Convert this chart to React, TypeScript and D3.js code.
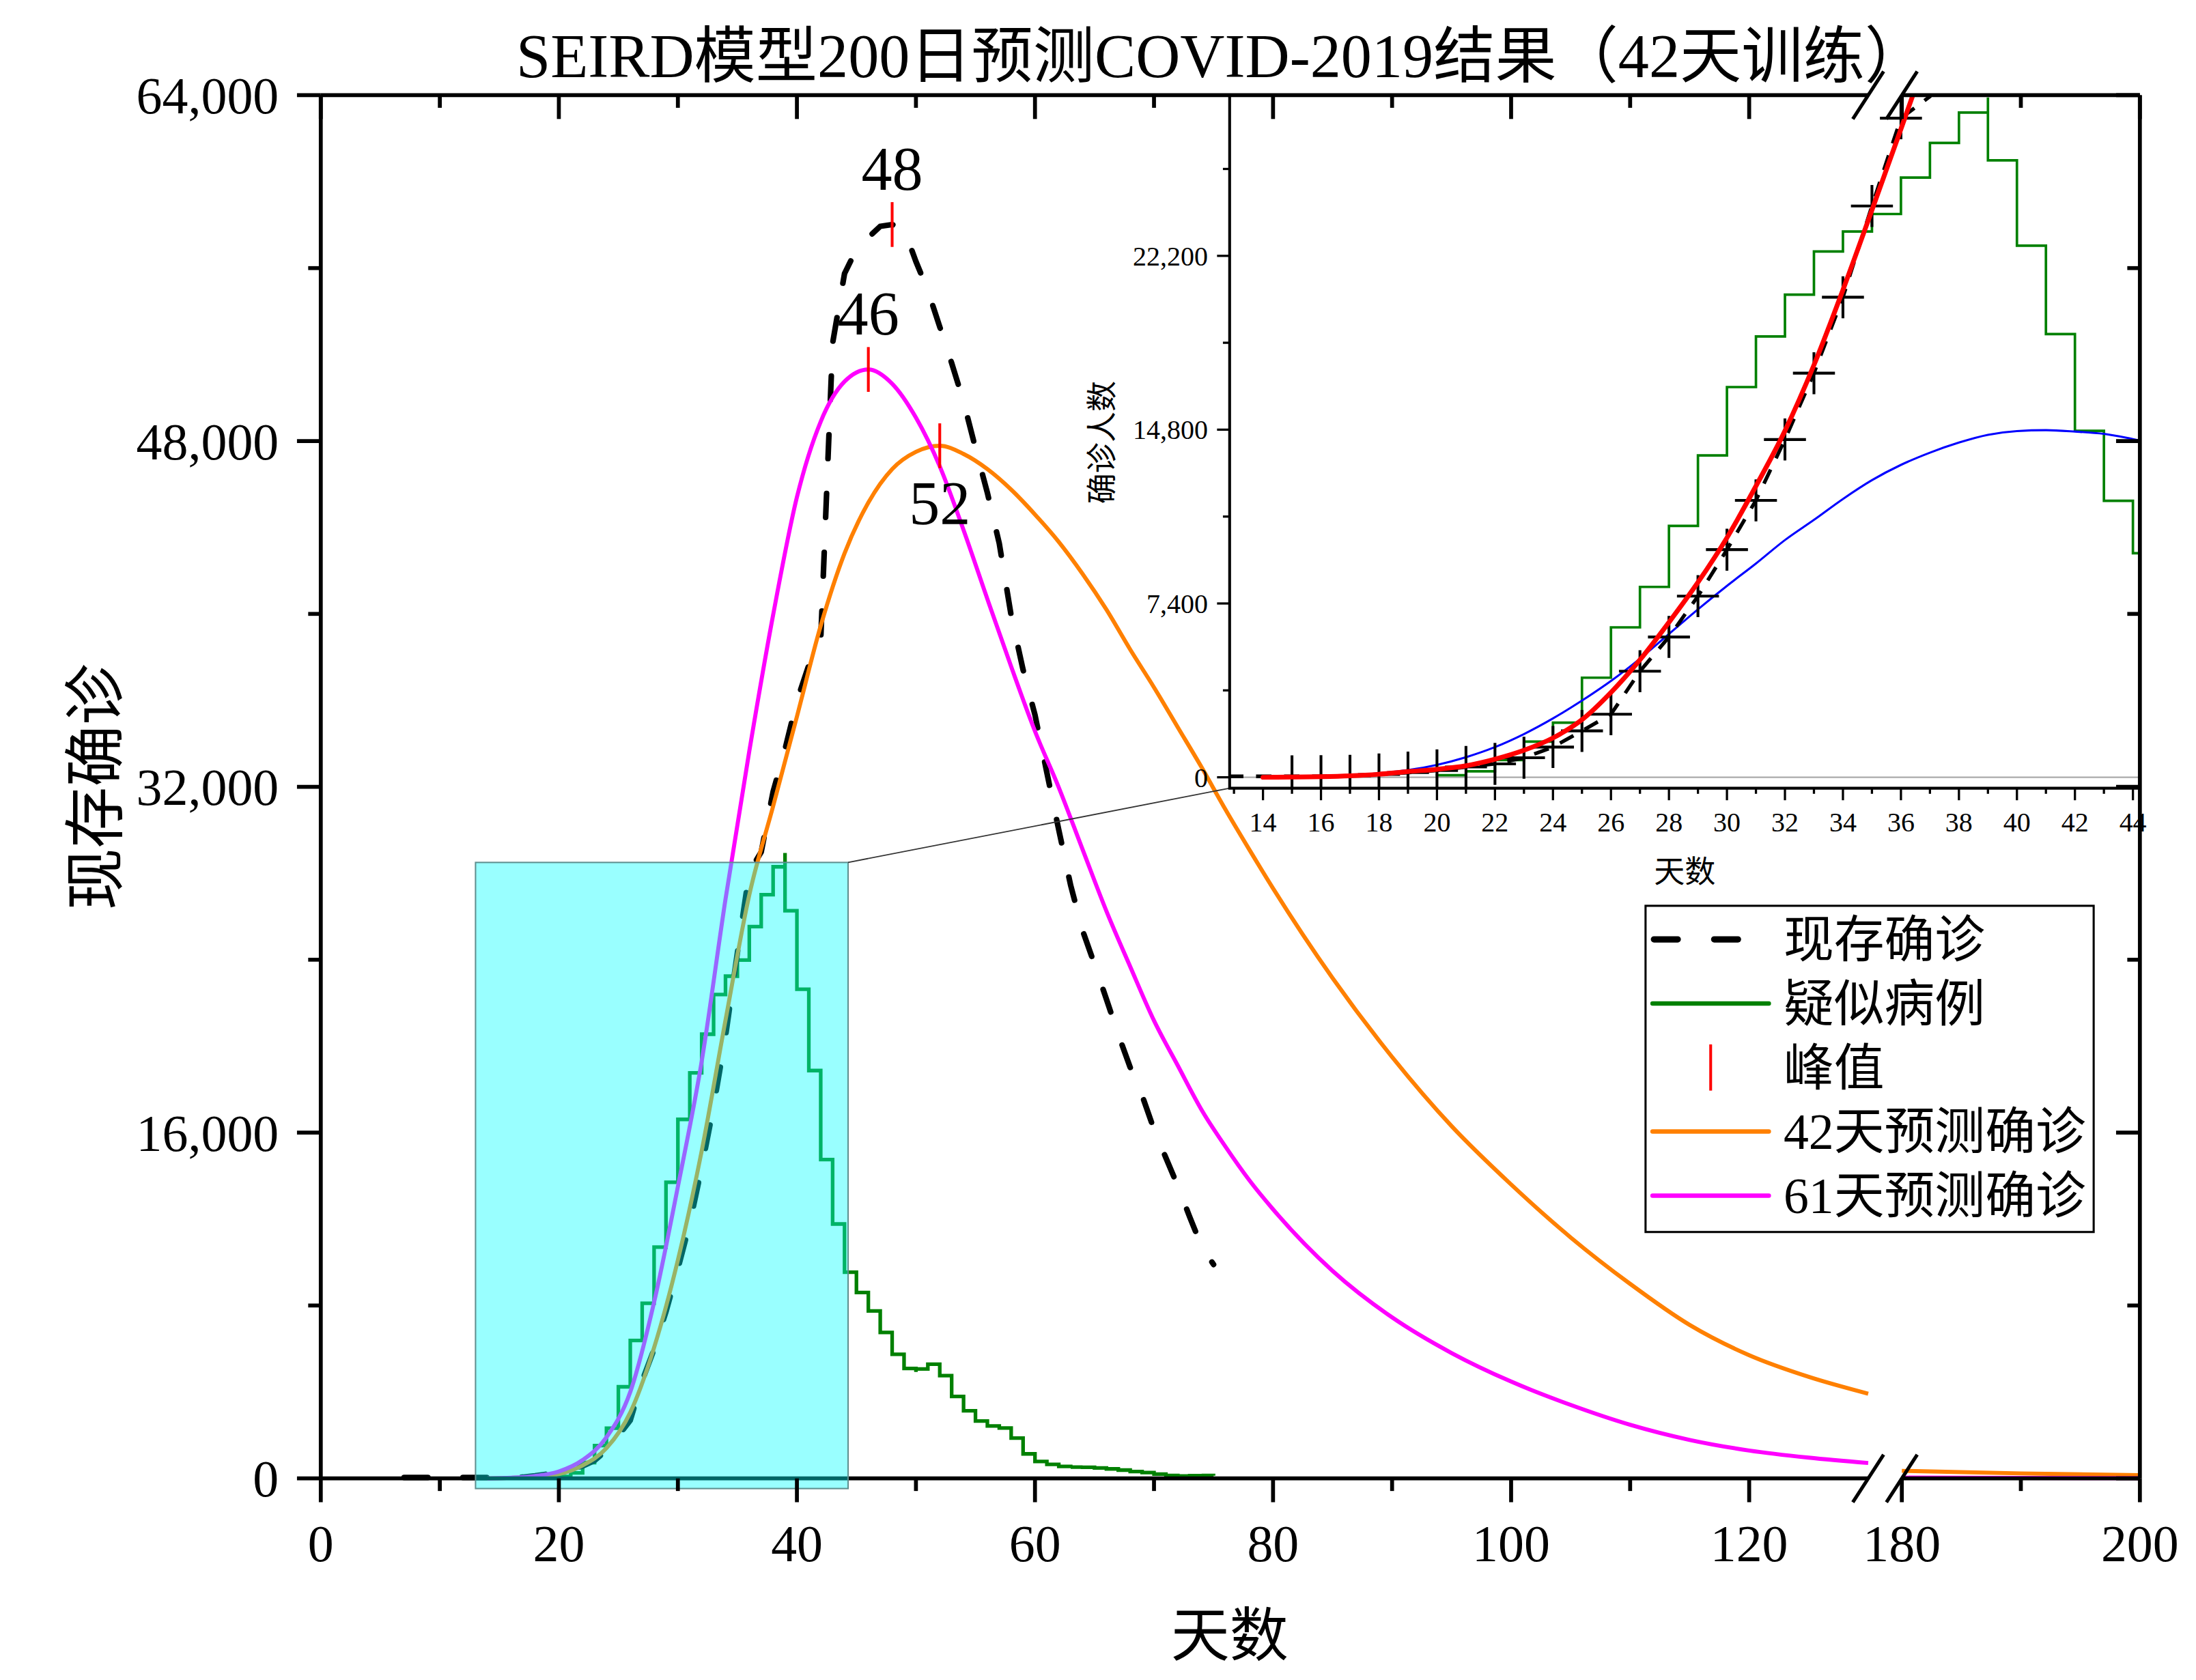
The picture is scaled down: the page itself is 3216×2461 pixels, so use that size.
import * as d3 from 'd3'

// ---- data ----
// 现存确诊 (current confirmed), one value per day starting at activeStart
const activeStart = 7
const activeCases = [
  41, 41, 41, 41, 41, 41, 41, 41, 41, 45, 62, 121, 198, 291, 440, 571, 830, 1287, 1975, 2684,
  4515, 5974, 7711, 9692, 11791, 14380, 17205, 20438, 24324, 28060, 28985, 31774, 33738, 35982,
  37626, 38800, 52526, 55748, 56873, 57416, 57934, 58016, 57805, 56303, 54965, 53284, 51606,
  49824, 47672, 45604, 43258, 39919, 37414, 35329, 32652, 30004, 27433, 25352, 23784, 22177,
  20533, 19016, 17721, 16145, 14831, 13526, 12094, 10734, 9898,
]

// 疑似病例 (suspected), one value per day starting at suspectStart
const suspectStart = 20
const suspectCases = [
  54, 120, 393, 1072, 1965, 2684, 5794, 6973, 9239, 12167, 15238, 17988, 19544, 21558, 23214,
  23260, 24702, 26359, 27657, 28942, 23589, 21675, 16067, 13435, 10109, 8969, 8228, 7264, 6242,
  5248, 4922, 5206, 5365, 4148, 3434, 2824, 2491, 2358, 2308, 1418, 851, 715, 587, 520, 522, 507,
  458, 421, 349, 285, 253, 147, 115, 113, 134, 128,
]

// 42天预测确诊
const orangeDays = [14, 16, 18, 20, 22, 24, 26, 28, 30, 32, 34, 36, 38, 40, 42, 44, 46, 48, 50, 52, 54, 56, 58, 60, 62, 64, 66, 68, 70, 72, 74, 76, 78, 80, 85, 90, 95, 100, 105, 110, 115, 120, 125, 130, 180, 190, 200]
const orangeCases = [0, 25, 80, 200, 600, 1400, 3050, 6050, 10100, 15150, 21200, 27000, 31100, 35250, 39450, 42800, 45150, 46700, 47500, 47780, 47400, 46700, 45750, 44600, 43330, 41850, 40200, 38350, 36600, 34750, 32900, 30950, 29100, 27300, 23150, 19500, 16300, 13600, 11150, 9000, 7100, 5700, 4700, 3920, 350, 230, 150]

// 61天预测确诊
const magentaDays = [14, 16, 18, 20, 22, 24, 26, 28, 30, 32, 34, 36, 38, 40, 42, 44, 46, 48, 50, 52, 54, 56, 58, 60, 62, 64, 66, 68, 70, 72, 74, 76, 78, 80, 85, 90, 95, 100, 105, 110, 115, 120, 125, 130, 180, 190, 200]
const magentaCases = [0, 30, 110, 320, 850, 1900, 4000, 8150, 13500, 19300, 26800, 33650, 39950, 45400, 48900, 50750, 51310, 50650, 49080, 46830, 43880, 40690, 37560, 34570, 31970, 29100, 26250, 23680, 21180, 19100, 17050, 15350, 13800, 12450, 9600, 7450, 5800, 4480, 3400, 2480, 1780, 1290, 960, 712, 35, 20, 10]

// inset fits
const fitStart = 14
const redFit = [0, 10, 25, 60, 130, 245, 340, 490, 770, 1150, 1675, 2450, 3610, 5000, 6600, 8300, 10200, 12400, 14750, 17550, 20750, 24150, 27600, 31100]
const blueFit = [0, 20, 45, 85, 170, 305, 530, 855, 1285, 1840, 2505, 3265, 4100, 5050, 6100, 7150, 8150, 9100, 10100, 10960, 11850, 12650, 13300, 13820, 14250, 14580, 14740, 14780, 14720, 14620, 14400, 14150]
const markerDays = [15, 36] // first and last day carrying a + marker

const zoomDays = [13, 44.3]
const zoomCases = [-470, 28500]
const insetDays = [12.85, 44.24]
const insetCases = [-465, 29040]

const xMajor = [0, 20, 40, 60, 80, 100, 120, 180, 200]
const xMinor = [10, 30, 50, 70, 90, 110, 190]
const yMajor = [0, 16000, 32000, 48000, 64000]
const yMinor = [8000, 24000, 40000, 56000]
const insetYTicks = [0, 3700, 7400, 11100, 14800, 18500, 22200, 25900]

const legendItems = ['现存确诊', '疑似病例', '峰值', '42天预测确诊', '61天预测确诊']

// ---- look ----
const serif = "'Liberation Serif','Times New Roman','Noto Sans CJK SC',serif"
const ORANGE = '#ff8000', MAGENTA = '#ff00ff', GREEN = '#008000'

type P = { d: number; v: number }

const xA = d3.scaleLinear().domain([0, 130]).range([229, 1334])
const xB = d3.scaleLinear().domain([180, 200]).range([1358, 1528])
const xMain = (d: number) => (d <= 130 ? xA(d) : xB(d))
const y = d3.scaleLinear().domain([0, 64000]).range([1056, 68])
const ix = d3.scaleLinear().domain(insetDays).range([878, 1528])
const iy = d3.scaleLinear().domain(insetCases).range([563, 68])

const series = (start: number, vals: number[]): P[] => vals.map((v, i) => ({ d: start + i, v }))
const pairs = (days: number[], vals: number[]): P[] => days.map((d, i) => ({ d, v: vals[i] }))

const lineOf = (xs: (d: number) => number, ys: (v: number) => number, curve = d3.curveMonotoneX) =>
  d3.line<P>().x((p) => xs(p.d)).y((p) => ys(p.v)).curve(curve)

// vertical-centre step (Origin style)
const vStep = (pts: P[], xs: (d: number) => number, ys: (v: number) => number) => {
  let s = `M${xs(pts[0].d)},${ys(pts[0].v)}`
  for (let i = 0; i < pts.length - 1; i++) {
    const mid = (pts[i].v + pts[i + 1].v) / 2
    s += `V${ys(mid)}H${xs(pts[i + 1].d)}V${ys(pts[i + 1].v)}`
  }
  return s
}

const fmt = d3.format(',')

export default function App() {
  const active = series(activeStart, activeCases)
  const suspect = series(suspectStart, suspectCases)
  const orange = pairs(orangeDays, orangeCases)
  const magenta = pairs(magentaDays, magentaCases)
  const red = series(fitStart, redFit)
  const blue = series(fitStart, blueFit)

  const seg1 = (p: P[]) => p.filter((q) => q.d <= 130)
  const seg2 = (p: P[]) => p.filter((q) => q.d >= 180)
  const mainLine = lineOf(xMain, y)
  const mainLinear = lineOf(xMain, y, d3.curveLinear)
  const insetLine = lineOf(ix, iy)
  const insetLinear = lineOf(ix, iy, d3.curveLinear)

  const peakOf = (p: P[]) => p[d3.maxIndex(p, (q) => q.v)]
  const peaks = [
    { p: peakOf(active), below: false },
    { p: peakOf(magenta), below: false },
    { p: peakOf(orange), below: true },
  ]

  const markers = active.filter((p) => p.d >= markerDays[0] && p.d <= markerDays[1])

  const rx0 = xA(zoomDays[0]), rx1 = xA(zoomDays[1])
  const ry0 = y(zoomCases[1]), ry1 = y(zoomCases[0])

  const [L, R, T, B] = [229, 1528, 68, 1056]
  const bx1 = xA(130), bx2 = xB(180)
  const [iL, iR, iT, iB] = [878, 1528, 68, 563]

  const legendY = d3.scaleLinear().domain([0, 4]).range([671, 854])

  return (
    <svg width={3216} height={2461} viewBox="0 0 1568 1200" style={{ position: 'absolute', left: 0, top: 0 }} fontFamily={serif}>
      <rect width={1568} height={1200} fill="#fff" />
      <defs>
        <clipPath id="insetClip"><rect x={iL} y={iT} width={iR - iL} height={iB - iT} /></clipPath>
      </defs>

      {/* main series */}
      <path d={vStep(suspect, xMain, y)} fill="none" stroke={GREEN} strokeWidth={2.6} />
      <path d={mainLinear(active) || ''} fill="none" stroke="#000" strokeWidth={4} strokeDasharray="17 25" strokeLinecap="round" />
      <path d={mainLine(seg1(orange)) || ''} fill="none" stroke={ORANGE} strokeWidth={2.9} />
      <path d={mainLine(seg2(orange)) || ''} fill="none" stroke={ORANGE} strokeWidth={2.9} />
      <path d={mainLine(seg1(magenta)) || ''} fill="none" stroke={MAGENTA} strokeWidth={2.9} />
      <path d={mainLine(seg2(magenta)) || ''} fill="none" stroke={MAGENTA} strokeWidth={2.9} />
      <path d={`M${L},${B}H${bx1}M${bx2},${B}H${R}`} stroke="#000" strokeWidth={2.8} fill="none" />

      {/* zoom window */}
      <rect x={rx0} y={ry0} width={rx1 - rx0} height={ry1 - ry0} fill="#00ffff" fillOpacity={0.4} stroke="#5f8f8f" strokeWidth={1} />
      <line x1={rx1} y1={ry0} x2={iL} y2={iB} stroke="#333" strokeWidth={0.9} />

      {/* peaks */}
      {peaks.map(({ p, below }, i) => (
        <g key={i}>
          <line x1={xMain(p.d)} x2={xMain(p.d)} y1={y(p.v) - 16} y2={y(p.v) + 16} stroke="#ff0000" strokeWidth={2} />
          <text x={xMain(p.d)} y={below ? y(p.v) + 56 : y(p.v) - 25} fontSize={44} textAnchor="middle">{p.d}</text>
        </g>
      ))}

      {/* inset */}
      <rect x={iL} y={iT} width={iR - iL} height={iB - iT} fill="#fff" />
      <g clipPath="url(#insetClip)">
        <line x1={iL} x2={iR} y1={iy(0)} y2={iy(0)} stroke="#aaa" strokeWidth={1} />
        <path d={vStep(suspect, ix, iy)} fill="none" stroke={GREEN} strokeWidth={1.8} />
        <path d={insetLine(blue) || ''} fill="none" stroke="#0000ff" strokeWidth={1.5} />
        <path d={insetLinear(active) || ''} fill="none" stroke="#000" strokeWidth={2.6} strokeDasharray="11 9" />
        {markers.map((p) => (
          <path key={p.d} d={`M${ix(p.d) - 15},${iy(p.v)}H${ix(p.d) + 15}M${ix(p.d)},${iy(p.v) - 15}V${iy(p.v) + 15}`} stroke="#000" strokeWidth={2} />
        ))}
        <path d={insetLine(red) || ''} fill="none" stroke="#ff0000" strokeWidth={3.4} strokeLinecap="round" />
      </g>
      <path d={`M${iL},${iT}V${iB}H${iR}`} fill="none" stroke="#000" strokeWidth={2} />
      {d3.range(13, 45).map((d) => (
        <line key={d} x1={ix(d)} x2={ix(d)} y1={iB} y2={iB + (d % 2 === 0 ? 8.6 : 4)} stroke="#000" strokeWidth={1.6} />
      ))}
      {d3.range(14, 45, 2).map((d) => (
        <text key={d} x={ix(d)} y={594} fontSize={19.5} textAnchor="middle">{d}</text>
      ))}
      {insetYTicks.map((v, i) => (
        <g key={v}>
          <line x1={iL} x2={iL - (i % 2 === 0 ? 9 : 4.8)} y1={iy(v)} y2={iy(v)} stroke="#000" strokeWidth={1.6} />
          {i % 2 === 0 && (
            <text x={862.5} y={iy(v)} dy="0.35em" fontSize={19.5} textAnchor="end">{fmt(v)}</text>
          )}
        </g>
      ))}
      <text x={1203} y={623} dy="0.35em" fontSize={22} textAnchor="middle">天数</text>
      <text transform="translate(787,316) rotate(-90)" dy="0.35em" fontSize={22} textAnchor="middle">确诊人数</text>

      {/* main frame */}
      <g stroke="#000" strokeWidth={2.8} fill="none">
        <path d={`M${L},${T}V${B}`} />
        <path d={`M${R},${T}V${B}`} />
        <path d={`M${L},${T}H${bx1}M${bx2},${T}H${R}`} />
        {[bx1, bx2].map((bx) => (
          <g key={bx} strokeWidth={2.5}>
            <line x1={bx - 11} y1={B + 17} x2={bx + 11} y2={B - 17} />
            <line x1={bx - 11} y1={T + 17} x2={bx + 11} y2={T - 17} />
          </g>
        ))}
        {xMajor.map((d) => (
          <g key={d}>
            <line x1={xMain(d)} x2={xMain(d)} y1={B} y2={B + 17} />
            <line x1={xMain(d)} x2={xMain(d)} y1={T} y2={T + 17} />
          </g>
        ))}
        {xMinor.map((d) => (
          <g key={d}>
            <line x1={xMain(d)} x2={xMain(d)} y1={B} y2={B + 9} />
            <line x1={xMain(d)} x2={xMain(d)} y1={T} y2={T + 9} />
          </g>
        ))}
        {yMajor.map((v) => (
          <g key={v}>
            <line x1={L - 17} x2={L} y1={y(v)} y2={y(v)} />
            <line x1={R - 17} x2={R} y1={y(v)} y2={y(v)} />
          </g>
        ))}
        {yMinor.map((v) => (
          <g key={v}>
            <line x1={L - 9} x2={L} y1={y(v)} y2={y(v)} />
            <line x1={R - 9} x2={R} y1={y(v)} y2={y(v)} />
          </g>
        ))}
      </g>
      {xMajor.map((d) => (
        <text key={d} x={xMain(d)} y={1115} fontSize={37} textAnchor="middle">{d}</text>
      ))}
      {yMajor.map((v) => (
        <text key={v} x={199} y={y(v)} dy="0.35em" fontSize={37} textAnchor="end">{fmt(v)}</text>
      ))}

      <text x={872} y={55} fontSize={44} textAnchor="middle">SEIRD模型200日预测COVID-2019结果（42天训练）</text>
      <text x={878} y={1168} dy="0.35em" fontSize={42} textAnchor="middle">天数</text>
      <text transform="translate(68,562) rotate(-90)" dy="0.35em" fontSize={44} textAnchor="middle">现存确诊</text>

      {/* legend */}
      <rect x={1175} y={647} width={320} height={233} fill="#fff" stroke="#000" strokeWidth={1.5} />
      {legendItems.map((name, i) => {
        const ly = legendY(i)
        return (
          <g key={name}>
            {i === 0 && <line x1={1181} x2={1264} y1={ly} y2={ly} stroke="#000" strokeWidth={4.5} strokeDasharray="17 26" strokeLinecap="round" />}
            {i === 1 && <line x1={1180} x2={1263} y1={ly} y2={ly} stroke={GREEN} strokeWidth={3.2} strokeLinecap="round" />}
            {i === 2 && <line x1={1221.5} x2={1221.5} y1={ly - 16.5} y2={ly + 16.5} stroke="#ff0000" strokeWidth={2} />}
            {i === 3 && <line x1={1180} x2={1263} y1={ly} y2={ly} stroke={ORANGE} strokeWidth={3.2} strokeLinecap="round" />}
            {i === 4 && <line x1={1180} x2={1263} y1={ly} y2={ly} stroke={MAGENTA} strokeWidth={3.2} strokeLinecap="round" />}
            <text x={1273.5} y={ly} dy="0.35em" fontSize={36}>{name}</text>
          </g>
        )
      })}
    </svg>
  )
}
